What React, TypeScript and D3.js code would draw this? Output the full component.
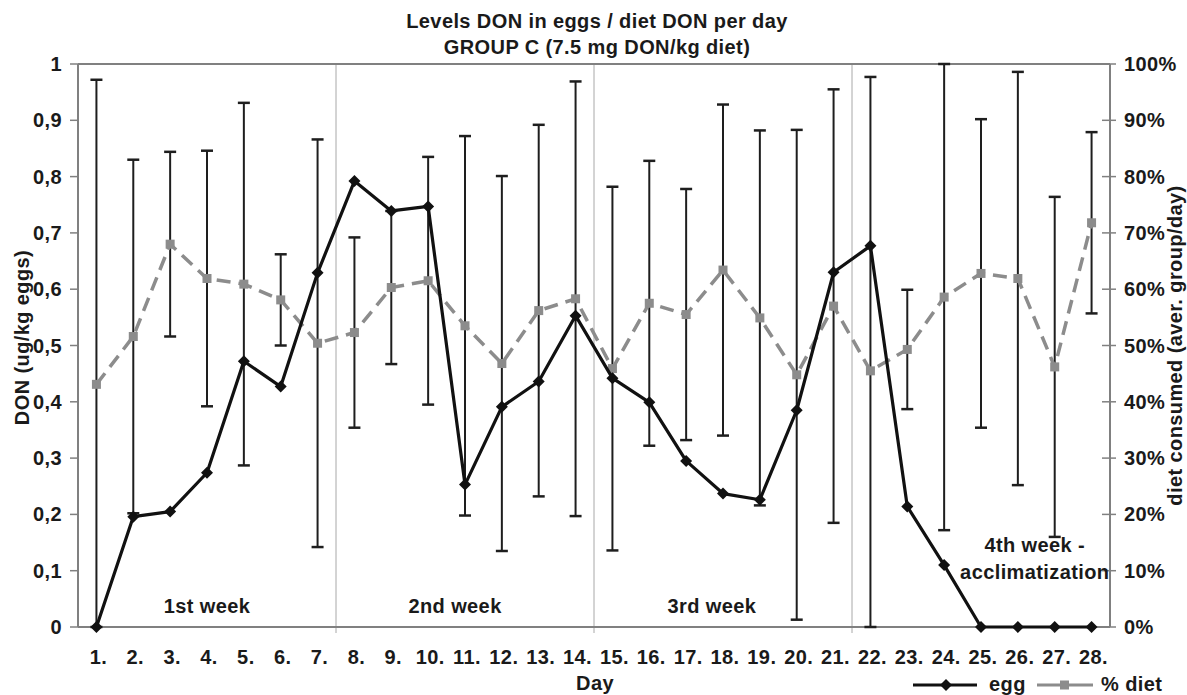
import * as d3 from "d3";

const DAYS = [
  1, 2, 3, 4, 5, 6, 7, 8, 9, 10, 11, 12, 13, 14,
  15, 16, 17, 18, 19, 20, 21, 22, 23, 24, 25, 26, 27, 28,
];

// DON in eggs (ug/kg), left axis
const EGG = [
  0, 0.196, 0.205, 0.274, 0.472, 0.427, 0.629, 0.792, 0.739, 0.747, 0.253,
  0.391, 0.436, 0.553, 0.442, 0.399, 0.295, 0.237, 0.226, 0.385, 0.63, 0.677,
  0.214, 0.11, 0, 0, 0, 0,
];

// % diet consumed (aver. group/day), right axis
const DIET = [
  43.1, 51.6, 68.0, 61.9, 60.9, 58.1, 50.4, 52.3, 60.3, 61.5, 53.5, 46.8,
  56.2, 58.3, 45.9, 57.5, 55.5, 63.4, 54.9, 44.8, 57.0, 45.5, 49.3, 58.6,
  62.8, 61.9, 46.2, 71.8,
];

// +/- error on % diet
const DIET_ERR = [
  54.1, 31.4, 16.4, 22.7, 32.2, 8.1, 36.2, 16.9, 13.6, 22.0, 33.7, 33.3,
  33.0, 38.6, 32.3, 25.3, 22.3, 29.4, 33.3, 43.5, 38.5, 52.2, 10.6, 41.4,
  27.4, 36.7, 30.2, 16.1,
];

const WEEKS = [
  { lines: ["1st week"], at: 4.0 },
  { lines: ["2nd week"], at: 10.73 },
  { lines: ["3rd week"], at: 17.7 },
  { lines: ["4th week -", "acclimatization"], at: 26.46 },
];

const WIDTH = 1187;
const HEIGHT = 695;
const LEFT = 78;
const RIGHT = 1110;
const TOP = 64;
const BOTTOM = 627;

const FONT = "'Liberation Sans', Arial, sans-serif";
const FS = 20;
const LS = 0.4;
const TEXT = "#1a1a1a";
const AXIS = "#808080";
const GREY = "#8c8c8c";

const txt = {
  fontFamily: FONT,
  fontWeight: "bold" as const,
  fontSize: FS,
  letterSpacing: LS,
  fill: TEXT,
};

const App = () => {
  const x = d3
    .scaleBand<number>()
    .domain(DAYS)
    .range([LEFT, RIGHT])
    .padding(0);
  const xc = (d: number) => (x(d) as number) + x.bandwidth() / 2;
  const xPos = d3.scaleLinear().domain([0.5, 28.5]).range([LEFT, RIGHT]);

  const y = d3.scaleLinear().domain([0, 1]).range([BOTTOM, TOP]);
  const yR = d3.scaleLinear().domain([0, 100]).range([BOTTOM, TOP]);

  const eggLine = d3
    .line<number>()
    .x((_, i) => xc(DAYS[i]))
    .y((d) => y(d));
  const dietLine = d3
    .line<number>()
    .x((_, i) => xc(DAYS[i]))
    .y((d) => yR(d));

  const leftFmt = (t: number) =>
    t === 0 || t === 1 ? String(t) : t.toFixed(1).replace(".", ",");

  const diamond = (cx: number, cy: number, r: number) =>
    `M${cx},${cy - r}L${cx + r},${cy}L${cx},${cy + r}L${cx - r},${cy}Z`;

  return (
    <div style={{ position: "fixed", left: 0, top: 0, background: "#fff" }}>
      <svg width={WIDTH} height={HEIGHT} style={{ display: "block" }}>
        <rect width={WIDTH} height={HEIGHT} fill="#fff" />

        {/* title */}
        <text x={597} y={28} textAnchor="middle" {...txt}>
          Levels DON in eggs / diet DON per day
        </text>
        <text x={597} y={54} textAnchor="middle" {...txt}>
          GROUP C (7.5 mg DON/kg diet)
        </text>

        {/* week separators */}
        {[7, 14, 21].map((d) => (
          <line
            key={d}
            x1={(x(d) as number) + x.bandwidth()}
            x2={(x(d) as number) + x.bandwidth()}
            y1={TOP}
            y2={BOTTOM + 6}
            stroke="#a8a8a8"
            strokeWidth={1}
          />
        ))}

        {/* plot frame top */}
        <line x1={LEFT} x2={RIGHT} y1={TOP} y2={TOP} stroke={AXIS} strokeWidth={2} />
        {/* axes */}
        <line x1={LEFT} x2={LEFT} y1={TOP} y2={BOTTOM} stroke={AXIS} strokeWidth={2} />
        <line x1={RIGHT} x2={RIGHT} y1={TOP} y2={BOTTOM} stroke={AXIS} strokeWidth={2} />
        <line x1={LEFT} x2={RIGHT} y1={BOTTOM} y2={BOTTOM} stroke={AXIS} strokeWidth={2} />

        {/* left ticks */}
        {y.ticks(10).map((t) => (
          <g key={t}>
            <line
              x1={LEFT - 8}
              x2={LEFT}
              y1={y(t)}
              y2={y(t)}
              stroke={AXIS}
              strokeWidth={1.5}
            />
            <text x={62} y={y(t)} dy="0.35em" textAnchor="end" {...txt}>
              {leftFmt(t)}
            </text>
          </g>
        ))}

        {/* right ticks */}
        {yR.ticks(10).map((t) => (
          <g key={t}>
            <line
              x1={RIGHT - 8}
              x2={RIGHT + 6}
              y1={yR(t)}
              y2={yR(t)}
              stroke={AXIS}
              strokeWidth={1.5}
            />
            <text x={1124} y={yR(t)} dy="0.35em" textAnchor="start" {...txt}>
              {`${t}%`}
            </text>
          </g>
        ))}

        {/* x labels */}
        {DAYS.map((d) => (
          <text key={d} x={xc(d) + 2} y={664} textAnchor="middle" {...txt}>
            {`${d}.`}
          </text>
        ))}
        <text x={595} y={690} textAnchor="middle" {...txt}>
          Day
        </text>

        {/* axis titles */}
        <text
          transform={`translate(22,${(TOP + BOTTOM) / 2 - 8}) rotate(-90)`}
          textAnchor="middle"
          dy="0.35em"
          {...txt}
        >
          DON (ug/kg eggs)
        </text>
        <text
          transform={`translate(1175,${(TOP + BOTTOM) / 2}) rotate(-90)`}
          textAnchor="middle"
          dy="0.35em"
          {...txt}
        >
          diet consumed (aver. group/day)
        </text>

        {/* week labels */}
        {WEEKS.map((w) =>
          w.lines.map((l, j) => (
            <text
              key={l}
              x={xPos(w.at)}
              y={w.lines.length > 1 ? 552 + j * 27 : 613}
              textAnchor="middle"
              {...txt}
            >
              {l}
            </text>
          )),
        )}

        {/* error bars on % diet */}
        {DIET.map((v, i) => {
          const cx = xc(DAYS[i]);
          const hi = Math.min(100, v + DIET_ERR[i]);
          const lo = Math.max(0, v - DIET_ERR[i]);
          return (
            <g key={i} stroke="#1e1e1e" strokeWidth={2}>
              <line x1={cx} x2={cx} y1={yR(hi)} y2={yR(lo)} />
              <line x1={cx - 6} x2={cx + 6} y1={yR(hi)} y2={yR(hi)} strokeWidth={2.5} />
              <line x1={cx - 6} x2={cx + 6} y1={yR(lo)} y2={yR(lo)} strokeWidth={2.5} />
            </g>
          );
        })}

        {/* % diet series */}
        <path
          d={dietLine(DIET) as string}
          fill="none"
          stroke={GREY}
          strokeWidth={3.5}
          strokeDasharray="14,8"
        />
        {DIET.map((v, i) => (
          <rect
            key={i}
            x={xc(DAYS[i]) - 4.5}
            y={yR(v) - 4.5}
            width={9}
            height={9}
            fill={GREY}
          />
        ))}

        {/* egg series */}
        <path
          d={eggLine(EGG) as string}
          fill="none"
          stroke="#111"
          strokeWidth={3.2}
          strokeLinejoin="round"
        />
        {EGG.map((v, i) => (
          <path key={i} d={diamond(xc(DAYS[i]), y(v), 6)} fill="#111" />
        ))}

        {/* legend */}
        <line x1={913} x2={977} y1={685} y2={685} stroke="#111" strokeWidth={3} />
        <path d={diamond(946, 685, 6)} fill="#111" />
        <text x={989} y={691} {...txt}>
          egg
        </text>
        <line x1={1037} x2={1093} y1={685} y2={685} stroke={GREY} strokeWidth={3} />
        <rect x={1060} y={680.5} width={9} height={9} fill={GREY} />
        <text x={1101} y={691} {...txt}>
          % diet
        </text>
      </svg>
    </div>
  );
};

export default App;
